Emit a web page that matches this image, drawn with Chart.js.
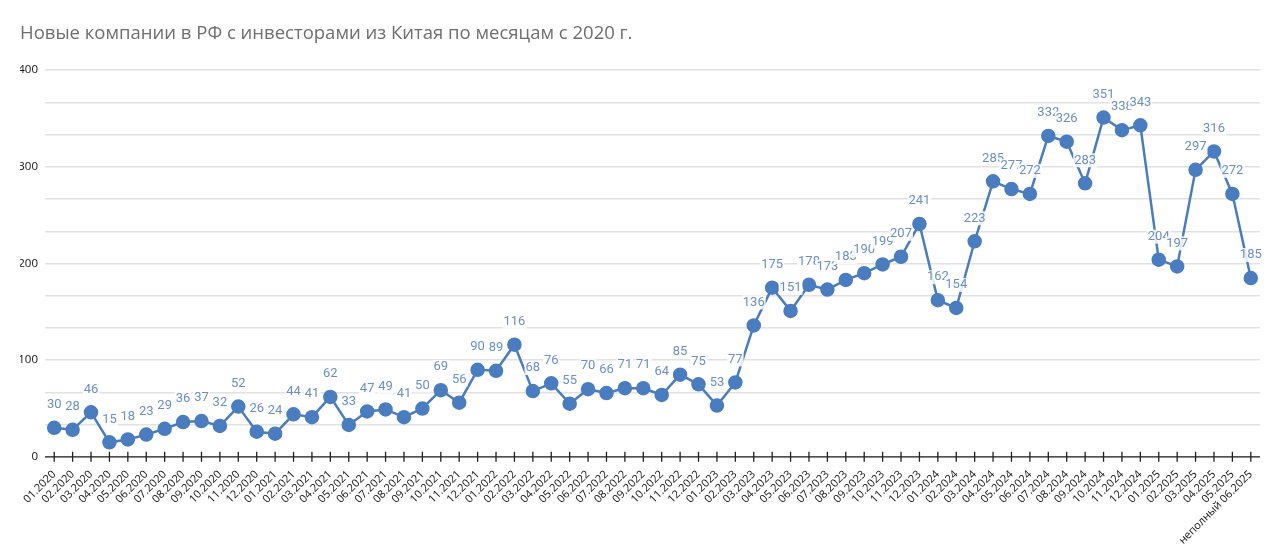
<!DOCTYPE html>
<html>
<head>
<meta charset="utf-8">
<script src="https://cdn.jsdelivr.net/npm/chart.js@4/dist/chart.umd.min.js"></script>
<style>
html,body{margin:0;padding:0;background:#fff;}
#wrap{position:relative;width:1280px;height:556px;}
</style>
</head>
<body>
<div id="wrap"><canvas id="c" width="1280" height="556"></canvas></div>
<script>
const titleText = "Новые компании в РФ с инвесторами из Китая по месяцам с 2020 г.";
const categories = [
  "01.2020","02.2020","03.2020","04.2020","05.2020","06.2020","07.2020","08.2020","09.2020","10.2020","11.2020","12.2020",
  "01.2021","02.2021","03.2021","04.2021","05.2021","06.2021","07.2021","08.2021","09.2021","10.2021","11.2021","12.2021",
  "01.2022","02.2022","03.2022","04.2022","05.2022","06.2022","07.2022","08.2022","09.2022","10.2022","11.2022","12.2022",
  "01.2023","02.2023","03.2023","04.2023","05.2023","06.2023","07.2023","08.2023","09.2023","10.2023","11.2023","12.2023",
  "01.2024","02.2024","03.2024","04.2024","05.2024","06.2024","07.2024","08.2024","09.2024","10.2024","11.2024","12.2024",
  "01.2025","02.2025","03.2025","04.2025","05.2025","неполный 06.2025"
];
const companies = [
  30,28,46,15,18,23,29,36,37,32,52,26,
  24,44,41,62,33,47,49,41,50,69,56,90,
  89,116,68,76,55,70,66,71,71,64,85,75,
  53,77,136,175,151,178,173,183,190,199,207,241,
  162,154,223,285,277,272,332,326,283,351,338,343,
  204,197,297,316,272,185
];
const yMax = 400;
const yLabelStep = 100;
const yGridStep = 100/3;

const lineColor = '#4a7cc0';
const labelColor = '#6a8fca';

const axisTicksPlugin = {
  id: 'axisTicks',
  afterDatasetsDraw(chart) {
    const ctx = chart.ctx, xs = chart.scales.x, ys = chart.scales.y;
    const y0 = ys.getPixelForValue(0);
    ctx.save();
    ctx.strokeStyle = '#222';
    ctx.lineWidth = 1.3;
    ctx.beginPath();
    ctx.moveTo(chart.chartArea.left, y0);
    ctx.lineTo(chart.chartArea.right, y0);
    for (let i = 0; i < categories.length; i++) {
      const x = xs.getPixelForValue(i);
      ctx.moveTo(x, y0 - 5);
      ctx.lineTo(x, y0 + 5);
    }
    ctx.stroke();
    ctx.restore();
  }
};

const valueLabelsPlugin = {
  id: 'valueLabels',
  afterDatasetsDraw(chart) {
    const ctx = chart.ctx;
    const meta = chart.getDatasetMeta(0);
    ctx.save();
    ctx.font = '13px Roboto, "Open Sans", sans-serif';
    ctx.textAlign = 'center';
    ctx.textBaseline = 'middle';
    meta.data.forEach((pt, i) => {
      const txt = String(companies[i]);
      const w = ctx.measureText(txt).width;
      const x = pt.x, y = pt.y - 23;
      ctx.fillStyle = 'rgba(255,255,255,0.85)';
      ctx.fillRect(x - w/2 - 1, y - 7, w + 2, 14);
      ctx.fillStyle = labelColor;
      ctx.fillText(txt, x, y);
    });
    ctx.restore();
  }
};

new Chart(document.getElementById('c'), {
  type: 'line',
  data: {
    labels: categories,
    datasets: [{
      data: companies,
      borderColor: lineColor,
      backgroundColor: lineColor,
      borderWidth: 2.5,
      pointRadius: 6,
      pointHoverRadius: 6,
      pointBackgroundColor: lineColor,
      pointBorderColor: lineColor,
      tension: 0
    }]
  },
  options: {
    responsive: false,
    animation: false,
    devicePixelRatio: 1,
    layout: { padding: { left: 20, right: 20, top: 0, bottom: -2 } },
    plugins: {
      legend: { display: false },
      tooltip: { enabled: false },
      title: {
        display: true,
        text: titleText,
        align: 'start',
        color: '#6e6e6e',
        font: { family: '"Open Sans", sans-serif', size: 18.5, weight: 'normal' },
        padding: { top: 23, bottom: 25 }
      }
    },
    scales: {
      x: {
        offset: true,
        grid: { display: false, drawTicks: false },
        border: { display: false },
        ticks: {
          autoSkip: false,
          maxRotation: 45,
          minRotation: 45,
          color: '#111',
          padding: 11,
          font: { family: '"Open Sans", sans-serif', size: 11 }
        }
      },
      y: {
        min: 0,
        max: yMax,
        afterFit: s => { s.width = 25; },
        border: { display: false },
        grid: { color: '#e2e2e2', lineWidth: 1.5, drawTicks: false },
        ticks: {
          stepSize: yGridStep,
          padding: 7,
          color: '#111',
          font: { family: '"Open Sans", sans-serif', size: 11.5 },
          callback: v => (Math.abs(v / yLabelStep - Math.round(v / yLabelStep)) < 0.001 ? Math.round(v) : '')
        }
      }
    }
  },
  plugins: [axisTicksPlugin, valueLabelsPlugin]
});
</script>
</body>
</html>
